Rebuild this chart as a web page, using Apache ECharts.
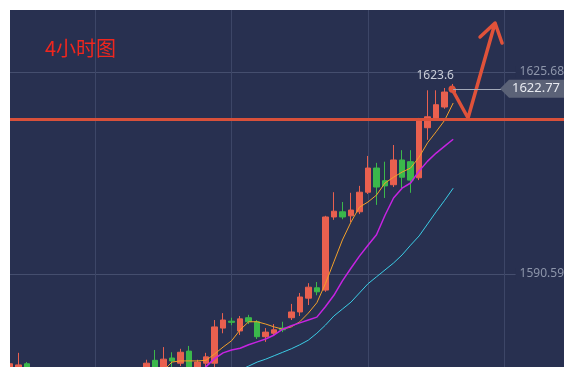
<!DOCTYPE html>
<html>
<head>
<meta charset="utf-8">
<script src="https://cdn.jsdelivr.net/npm/echarts@6/dist/echarts.min.js"></script>
<style>
  html, body {margin: 0; padding: 0; background: #fff;}
  #chart {width: 574px; height: 377px;}
</style>
</head>
<body>
<div id="chart"></div>
<script>
// 66 slots on the x axis, candles fill the first 53
const categories = Array.from({length: 66}, (_, i) => String(i));

// [open, close, low, high]
const candles = [
    [1573.5, 1575.0, 1573.0, 1575.6], [1573.0, 1574.8, 1572.5, 1576.9], [1575.0, 1573.6, 1572.8, 1575.3],
    [1573.2, 1572.1, 1571.0, 1573.8], [1572.1, 1570.4, 1569.6, 1572.9], [1570.4, 1569.2, 1568.5, 1571.2],
    [1569.2, 1570.6, 1568.4, 1571.5], [1570.6, 1568.8, 1567.9, 1571.0], [1568.8, 1567.5, 1566.2, 1569.4],
    [1567.5, 1568.9, 1566.8, 1569.7], [1568.9, 1570.3, 1568.1, 1571.4], [1570.3, 1569.1, 1568.2, 1570.9],
    [1569.1, 1570.8, 1568.7, 1571.6], [1570.8, 1572.0, 1570.1, 1572.8], [1572.0, 1571.2, 1570.5, 1573.1],
    [1571.2, 1573.1, 1570.8, 1573.9], [1574.3, 1575.1, 1573.5, 1575.7], [1575.6, 1574.0, 1573.0, 1577.4],
    [1573.8, 1575.8, 1573.0, 1577.9], [1576.0, 1575.5, 1574.4, 1577.0], [1575.1, 1577.0, 1574.6, 1577.6],
    [1577.2, 1574.2, 1573.5, 1578.1], [1574.2, 1575.3, 1573.8, 1575.7], [1575.1, 1576.2, 1574.4, 1576.9],
    [1575.1, 1581.4, 1574.3, 1582.6], [1581.2, 1582.6, 1580.3, 1583.8], [1582.4, 1582.2, 1581.7, 1583.0],
    [1580.7, 1582.8, 1580.0, 1583.3], [1583.0, 1582.3, 1581.9, 1583.5], [1582.3, 1579.7, 1579.3, 1582.6],
    [1579.7, 1580.5, 1578.8, 1581.2], [1580.3, 1580.9, 1580.0, 1581.9], [1581.2, 1580.9, 1580.5, 1582.3],
    [1583.0, 1584.0, 1582.6, 1585.4], [1584.0, 1586.6, 1583.3, 1587.3], [1586.4, 1588.3, 1585.2, 1589.0],
    [1588.2, 1587.5, 1586.9, 1589.2], [1587.8, 1600.5, 1587.5, 1600.7], [1600.5, 1601.5, 1600.0, 1604.8],
    [1601.4, 1600.5, 1600.1, 1603.1], [1600.7, 1601.7, 1599.6, 1604.7], [1601.4, 1604.8, 1601.0, 1605.9],
    [1604.8, 1609.0, 1604.5, 1611.1], [1609.0, 1605.7, 1602.6, 1609.9], [1606.8, 1605.9, 1603.8, 1610.1],
    [1606.1, 1610.4, 1605.7, 1613.0], [1610.4, 1607.4, 1605.5, 1612.1], [1610.1, 1606.9, 1604.7, 1612.1],
    [1607.3, 1617.3, 1606.9, 1617.7], [1616.0, 1617.9, 1613.9, 1622.5], [1617.7, 1620.0, 1617.2, 1622.5],
    [1619.6, 1622.2, 1619.3, 1622.9], [1622.2, 1622.77, 1622.0, 1623.6]
];

const maOrange = [
    '-', '-', '-', '-', '-', '-', '-', '-', '-', '-', '-', '-', '-', '-', '-', '-', '-', '-',
    1573.8, 1575.3, 1575.5, 1575.5, 1575.5, 1575.6, 1576.7, 1577.9, 1579.0, 1580.9, 1582.3,
    1582.3, 1581.9, 1581.4, 1581.0, 1581.4, 1582.3, 1583.8, 1585.6, 1588.9, 1592.7, 1596.5,
    1599.6, 1602.2, 1603.1, 1604.3, 1606.4, 1607.4, 1608.3, 1609.0, 1610.9, 1613.4, 1615.3,
    1617.3, 1620.3
];
const maPurple = [
    '-', '-', '-', '-', '-', '-', '-', '-', '-', '-', '-', '-', '-', '-', '-', '-', '-', '-',
    '-', '-', '-', '-', 1573.0, 1574.5, 1575.9, 1576.9, 1577.4, 1577.7, 1578.3, 1578.8,
    1579.3, 1580.0, 1581.0, 1581.6, 1582.1, 1582.6, 1583.1, 1584.9, 1586.9, 1589.4, 1591.6,
    1593.7, 1595.6, 1597.4, 1600.8, 1603.8, 1605.5, 1606.4, 1608.5, 1610.2, 1611.6, 1612.8,
    1614.0
];
const maCyan = [
    '-', '-', '-', '-', '-', '-', '-', '-', '-', '-', '-', '-', '-', '-', '-', '-', '-', '-',
    '-', '-', '-', '-', '-', '-', '-', '-', '-', 1573.9, 1574.6, 1575.3, 1575.8, 1576.4,
    1577.0, 1577.6, 1578.3, 1579.1, 1580.3, 1581.7, 1583.3, 1584.5, 1585.7, 1587.3, 1588.9,
    1590.1, 1591.3, 1592.5, 1593.9, 1595.6, 1597.2, 1599.3, 1601.4, 1603.4, 1605.5
];

const yTicks = [1590.59, 1625.68];
const lastPrice = 1622.77;
const supportLevel = 1617.5;
// hand drawn arrow, [slot, price]
const arrowPath = [
    [51.86, 1622.73], [53.74, 1617.69], [56.91, 1634.19],
    [55.15, 1631.76], [56.91, 1634.19], [57.73, 1630.72]
];

const bg = '#283050';
const up = '#e9604f';
const down = '#3bb84b';

var myChart = echarts.init(document.getElementById('chart'));
myChart.setOption({
    backgroundColor: '#fff',
    animation: false,
    title: {
        text: '4小时图',
        left: 45,
        top: 38,
        padding: 0,
        textStyle: {color: '#f0261e', fontSize: 20, fontWeight: 'normal', fontFamily: 'Noto Sans CJK SC'}
    },
    // candles are not cut at the grid edge, so mask the white margin
    graphic: [
        {type: 'rect', left: 0, bottom: 0, z: 100, shape: {width: 574, height: 10}, style: {fill: '#fff'}},
        {type: 'rect', left: 0, top: 0, z: 100, shape: {width: 10, height: 377}, style: {fill: '#fff'}}
    ],
    grid: {
        left: 10, right: 10, top: 10, bottom: 10,
        show: true, backgroundColor: bg, borderWidth: 0
    },
    xAxis: [{
        type: 'category',
        data: categories,
        boundaryGap: false,
        axisLine: {show: false},
        axisTick: {show: false},
        axisLabel: {show: false},
        splitLine: {
            show: true,
            interval: function (i) { return i % 16 === 10; },
            lineStyle: {color: '#3d4667', width: 1}
        }
    }, {
        type: 'value',
        min: 0,
        max: 65,
        show: false
    }],
    yAxis: {
        type: 'value',
        position: 'right',
        min: 1574.44,
        max: 1636.45,
        axisLine: {show: false},
        axisTick: {show: false, customValues: yTicks},
        axisLabel: {
            inside: true,
            margin: 0,
            customValues: yTicks,
            color: '#8d95aa',
            fontSize: 12,
            fontFamily: 'Noto Sans',
            backgroundColor: bg,
            padding: [0, 0, 0, 4],
            formatter: function (v) { return v.toFixed(2); }
        },
        splitLine: {show: true, lineStyle: {color: '#454e6e', width: 1}}
    },
    series: [{
        type: 'candlestick',
        data: candles,
        barWidth: 6,
        itemStyle: {color: up, color0: down, borderColor: up, borderColor0: down, borderWidth: 1},
        markLine: {
            silent: true,
            symbol: 'none',
            label: {show: false},
            data: [
                {yAxis: supportLevel, lineStyle: {color: '#d9503a', width: 3, type: 'solid'}},
                [
                    {coord: [categories[52], lastPrice], lineStyle: {color: '#a3a9b8', width: 1, type: 'solid'}},
                    {coord: [categories[65], lastPrice]}
                ]
            ]
        },
        markPoint: {
            silent: true,
            data: [{
                type: 'max',
                valueDim: 'highest',
                symbol: 'circle',
                symbolSize: 0,
                label: {
                    show: true,
                    position: 'inside',
                    offset: [-18, -8],
                    color: '#c9cdd8',
                    fontSize: 12,
                    fontFamily: 'Noto Sans',
                    formatter: function (p) { return String(p.value); }
                }
            }, {
                coord: [categories[65], lastPrice],
                value: lastPrice,
                symbol: 'path://M0,9L9,0L64,0L64,18L9,18Z',
                symbolSize: [64, 18],
                symbolKeepAspect: false,
                symbolOffset: [-32, 0],
                itemStyle: {color: '#5b6277'},
                label: {
                    show: true,
                    position: 'inside',
                    offset: [4, 0],
                    color: '#e8eaf0',
                    fontSize: 13,
                    fontFamily: 'Noto Sans',
                    formatter: function () { return lastPrice.toFixed(2); }
                }
            }]
        }
    }, {
        type: 'line',
        data: maOrange,
        showSymbol: false,
        lineStyle: {color: '#f2a02a', width: 1}
    }, {
        type: 'line',
        data: maPurple,
        showSymbol: false,
        lineStyle: {color: '#c623e2', width: 1.5}
    }, {
        type: 'line',
        data: maCyan,
        showSymbol: false,
        lineStyle: {color: '#3ccde6', width: 1}
    }, {
        type: 'line',
        xAxisIndex: 1,
        data: arrowPath.map(function (p, i) {
            return i === 0 ? {value: p, symbol: 'circle', symbolSize: 7} : {value: p};
        }),
        symbol: 'none',
        showSymbol: true,
        itemStyle: {color: '#e0523a'},
        lineStyle: {color: '#e0523a', width: 3.5, join: 'round', cap: 'round'}
    }]
});
</script>
</body>
</html>
